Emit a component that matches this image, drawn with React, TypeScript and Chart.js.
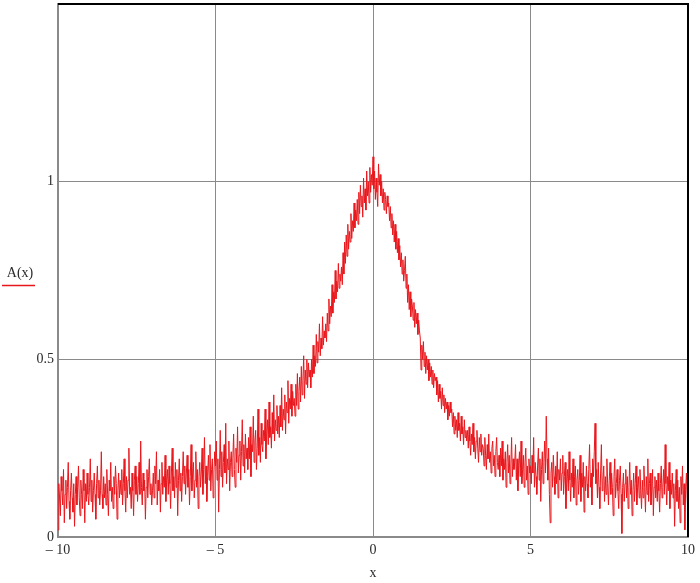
import React, { useEffect, useRef } from "react";
import { Chart, registerables } from "chart.js";

Chart.register(...registerables);

// x range of the sampled function A(x)
const X_MIN = -10;
const X_MAX = 10;

// axis ticks (the 1.5 top has no label)
const Y_TICKS = [0, 0.5, 1, 1.5];
const Y_MAX = 1.5;
const X_TICKS = [-10, -5, 0, 5, 10];

// A(x) samples: 801 samples from -10 to 10 (step 0.025)
const A_VALUES: number[] = [
  // -10 .. -9.525
  0.02, 0.15, 0.11, 0.06, 0.17, 0.13, 0.09, 0.19, 0.04, 0.12, 0.16, 0.08, 0.14, 0.21, 0.10, 0.05, 0.13, 0.18, 0.11, 0.07,
  // -9.5 ..
  0.15, 0.03, 0.12, 0.17, 0.09, 0.14, 0.20, 0.11, 0.06, 0.16, 0.12, 0.08, 0.19, 0.13, 0.04, 0.15, 0.10, 0.18, 0.12, 0.09,
  // -9 ..
  0.14, 0.22, 0.10, 0.16, 0.07, 0.13, 0.18, 0.12, 0.05, 0.15, 0.20, 0.11, 0.16, 0.09, 0.13, 0.24, 0.12, 0.08, 0.17, 0.11,
  // -8.5 ..
  0.15, 0.09, 0.19, 0.12, 0.06, 0.16, 0.13, 0.21, 0.10, 0.14, 0.08, 0.17, 0.12, 0.20, 0.15, 0.05, 0.13, 0.18, 0.11, 0.16,
  // -8 ..
  0.12, 0.19, 0.09, 0.15, 0.22, 0.13, 0.07, 0.17, 0.11, 0.16, 0.25, 0.12, 0.14, 0.08, 0.18, 0.13, 0.06, 0.16, 0.20, 0.12,
  // -7.5 ..
  0.17, 0.10, 0.15, 0.21, 0.12, 0.27, 0.14, 0.09, 0.18, 0.13, 0.16, 0.05, 0.14, 0.19, 0.11, 0.17, 0.22, 0.12, 0.15, 0.09,
  // -7 ..
  0.13, 0.18, 0.11, 0.20, 0.15, 0.24, 0.09, 0.16, 0.13, 0.19, 0.07, 0.15, 0.21, 0.12, 0.17, 0.14, 0.23, 0.10, 0.16, 0.19,
  // -6.5 ..
  0.12, 0.20, 0.15, 0.08, 0.18, 0.25, 0.13, 0.17, 0.11, 0.21, 0.14, 0.19, 0.06, 0.16, 0.22, 0.13, 0.18, 0.10, 0.17, 0.24,
  // -6 ..
  0.15, 0.20, 0.12, 0.18, 0.23, 0.14, 0.19, 0.09, 0.17, 0.26, 0.13, 0.18, 0.21, 0.11, 0.16, 0.24, 0.14, 0.19, 0.08, 0.17,
  // -5.5 ..
  0.21, 0.14, 0.18, 0.25, 0.12, 0.19, 0.28, 0.15, 0.20, 0.10, 0.17, 0.23, 0.16, 0.26, 0.13, 0.19, 0.22, 0.11, 0.18, 0.24,
  // -5 ..
  0.20, 0.27, 0.16, 0.22, 0.07, 0.19, 0.30, 0.17, 0.24, 0.14, 0.21, 0.26, 0.18, 0.32, 0.15, 0.22, 0.19, 0.27, 0.13, 0.21,
  // -4.5 ..
  0.24, 0.17, 0.22, 0.29, 0.19, 0.14, 0.25, 0.21, 0.31, 0.18, 0.23, 0.27, 0.16, 0.24, 0.33, 0.20, 0.26, 0.18, 0.29, 0.22,
  // -4 ..
  0.25, 0.19, 0.28, 0.22, 0.31, 0.17, 0.26, 0.24, 0.34, 0.21, 0.27, 0.30, 0.19, 0.25, 0.36, 0.23, 0.28, 0.21, 0.32, 0.26,
  // -3.5 ..
  0.24, 0.30, 0.27, 0.36, 0.22, 0.29, 0.33, 0.26, 0.38, 0.28, 0.31, 0.25, 0.35, 0.29, 0.40, 0.27, 0.33, 0.30, 0.37, 0.29,
  // -3 ..
  0.34, 0.28, 0.37, 0.31, 0.42, 0.30, 0.36, 0.33, 0.40, 0.29, 0.38, 0.35, 0.44, 0.32, 0.39, 0.36, 0.43, 0.34, 0.41, 0.37,
  // -2.5 ..
  0.39, 0.34, 0.43, 0.37, 0.46, 0.36, 0.41, 0.45, 0.38, 0.48, 0.40, 0.44, 0.51, 0.39, 0.47, 0.43, 0.50, 0.42, 0.49, 0.45,
  // -2 ..
  0.47, 0.42, 0.50, 0.45, 0.54, 0.46, 0.51, 0.48, 0.57, 0.49, 0.55, 0.52, 0.60, 0.51, 0.56, 0.53, 0.62, 0.54, 0.58, 0.56,
  // -1.5 ..
  0.60, 0.55, 0.63, 0.58, 0.67, 0.60, 0.65, 0.62, 0.71, 0.63, 0.69, 0.66, 0.75, 0.67, 0.72, 0.69, 0.77, 0.70, 0.74, 0.72,
  // -1 ..
  0.76, 0.71, 0.80, 0.74, 0.83, 0.77, 0.85, 0.79, 0.88, 0.81, 0.86, 0.83, 0.91, 0.84, 0.89, 0.86, 0.94, 0.87, 0.92, 0.89,
  // -0.5 ..
  0.95, 0.88, 0.97, 0.91, 0.99, 0.93, 0.96, 0.90, 1.01, 0.94, 0.98, 0.92, 1.03, 0.96, 1.00, 0.94, 1.04, 0.97, 1.02, 0.99,
  // 0 ..
  1.07, 0.98, 1.03, 0.95, 1.01, 0.97, 0.93, 1.05, 0.99, 1.02, 0.96, 1.00, 0.94, 0.98, 0.92, 0.97, 0.95, 0.91, 0.96, 0.93,
  // 0.5 ..
  0.94, 0.89, 0.93, 0.87, 0.91, 0.85, 0.89, 0.83, 0.88, 0.81, 0.86, 0.80, 0.84, 0.78, 0.82, 0.76, 0.80, 0.74, 0.78, 0.72,
  // 1 ..
  0.75, 0.79, 0.70, 0.74, 0.66, 0.71, 0.64, 0.69, 0.62, 0.67, 0.65, 0.61, 0.66, 0.59, 0.64, 0.60, 0.63, 0.57, 0.61, 0.58,
  // 1.5 ..
  0.56, 0.47, 0.54, 0.50, 0.55, 0.48, 0.52, 0.46, 0.51, 0.47, 0.50, 0.44, 0.49, 0.45, 0.48, 0.43, 0.47, 0.42, 0.46, 0.44,
  // 2 ..
  0.45, 0.40, 0.44, 0.38, 0.43, 0.39, 0.41, 0.36, 0.42, 0.37, 0.40, 0.35, 0.39, 0.36, 0.38, 0.33, 0.37, 0.34, 0.38, 0.35,
  // 2.5 ..
  0.36, 0.31, 0.35, 0.29, 0.34, 0.30, 0.33, 0.28, 0.35, 0.30, 0.32, 0.27, 0.34, 0.29, 0.31, 0.26, 0.33, 0.28, 0.30, 0.27,
  // 3 ..
  0.30, 0.25, 0.31, 0.27, 0.23, 0.29, 0.26, 0.32, 0.24, 0.28, 0.22, 0.27, 0.30, 0.25, 0.21, 0.28, 0.24, 0.29, 0.23, 0.26,
  // 3.5 ..
  0.25, 0.20, 0.28, 0.23, 0.19, 0.26, 0.22, 0.29, 0.21, 0.24, 0.18, 0.25, 0.27, 0.20, 0.23, 0.17, 0.24, 0.28, 0.21, 0.19,
  // 4 ..
  0.23, 0.17, 0.25, 0.20, 0.27, 0.16, 0.22, 0.19, 0.24, 0.14, 0.21, 0.26, 0.18, 0.23, 0.15, 0.20, 0.28, 0.17, 0.22, 0.19,
  // 4.5 ..
  0.21, 0.26, 0.16, 0.22, 0.13, 0.20, 0.24, 0.17, 0.27, 0.15, 0.19, 0.23, 0.14, 0.21, 0.25, 0.16, 0.20, 0.12, 0.22, 0.18,
  // 5 ..
  0.20, 0.15, 0.23, 0.18, 0.28, 0.14, 0.21, 0.17, 0.12, 0.20, 0.25, 0.16, 0.22, 0.10, 0.19, 0.24, 0.15, 0.21, 0.27, 0.18,
  // 5.5 ..
  0.34, 0.22, 0.16, 0.25, 0.12, 0.04, 0.18, 0.21, 0.14, 0.23, 0.17, 0.12, 0.20, 0.15, 0.24, 0.11, 0.19, 0.16, 0.22, 0.13,
  // 6 ..
  0.18, 0.23, 0.12, 0.17, 0.21, 0.08, 0.15, 0.19, 0.13, 0.24, 0.16, 0.10, 0.18, 0.14, 0.22, 0.11, 0.17, 0.20, 0.09, 0.16,
  // 6.5 ..
  0.19, 0.12, 0.16, 0.23, 0.10, 0.18, 0.14, 0.21, 0.07, 0.17, 0.13, 0.20, 0.15, 0.11, 0.19, 0.26, 0.14, 0.18, 0.09, 0.22,
  // 7 ..
  0.17, 0.24, 0.32, 0.15, 0.19, 0.11, 0.21, 0.14, 0.08, 0.18, 0.26, 0.13, 0.16, 0.20, 0.10, 0.17, 0.12, 0.22, 0.15, 0.09,
  // 7.5 ..
  0.16, 0.21, 0.12, 0.18, 0.14, 0.06, 0.17, 0.22, 0.11, 0.15, 0.19, 0.13, 0.08, 0.16, 0.20, 0.12, 0.01, 0.14, 0.18, 0.10,
  // 8 ..
  0.15, 0.19, 0.11, 0.17, 0.08, 0.14, 0.21, 0.12, 0.16, 0.06, 0.13, 0.18, 0.10, 0.15, 0.20, 0.09, 0.14, 0.17, 0.11, 0.19,
  // 8.5 ..
  0.13, 0.08, 0.16, 0.11, 0.20, 0.14, 0.07, 0.17, 0.12, 0.22, 0.10, 0.15, 0.18, 0.09, 0.13, 0.19, 0.06, 0.14, 0.17, 0.11,
  // 9 ..
  0.16, 0.10, 0.18, 0.13, 0.07, 0.15, 0.20, 0.11, 0.14, 0.19, 0.12, 0.26, 0.15, 0.09, 0.17, 0.13, 0.21, 0.08, 0.16, 0.12,
  // 9.5 ..
  0.18, 0.11, 0.15, 0.03, 0.13, 0.19, 0.10, 0.16, 0.08, 0.14, 0.04, 0.17, 0.12, 0.20, 0.09, 0.15, 0.02, 0.13, 0.18, 0.11,
  // 10
  0.06,
];

const SERIES_LABEL = "A(x)";
const X_TITLE = "x";

const RED = "#e8171c";
const GRID = "#8a8a8a";
const TEXT = "#2b2b2b";
const FONT = "'Liberation Serif', 'DejaVu Serif', serif";

const frameAndLegend = {
  id: "frameAndLegend",
  afterDraw(chart: any) {
    const { ctx, chartArea } = chart;
    ctx.save();
    // black top & right frame
    ctx.strokeStyle = "#000";
    ctx.lineWidth = 2;
    ctx.beginPath();
    ctx.moveTo(chartArea.left, chartArea.top);
    ctx.lineTo(chartArea.right, chartArea.top);
    ctx.lineTo(chartArea.right, chartArea.bottom);
    ctx.stroke();
    // legend label at the left
    ctx.fillStyle = TEXT;
    ctx.font = `14px ${FONT}`;
    ctx.textAlign = "center";
    ctx.textBaseline = "alphabetic";
    ctx.fillText(SERIES_LABEL, 20, 277);
    ctx.strokeStyle = RED;
    ctx.lineWidth = 1.5;
    ctx.beginPath();
    ctx.moveTo(2, 285.5);
    ctx.lineTo(35, 285.5);
    ctx.stroke();
    ctx.restore();
  },
};

export default function App() {
  const canvasRef = useRef<HTMLCanvasElement | null>(null);

  useEffect(() => {
    if (!canvasRef.current) return;
    const n = A_VALUES.length;
    const points = A_VALUES.map((y, i) => ({
      x: X_MIN + (i * (X_MAX - X_MIN)) / (n - 1),
      y,
    }));
    const chart = new Chart(canvasRef.current, {
      type: "line",
      data: {
        datasets: [
          {
            label: SERIES_LABEL,
            data: points,
            borderColor: RED,
            borderWidth: 1,
            pointRadius: 0,
            tension: 0,
            fill: false,
          },
        ],
      },
      options: {
        animation: false,
        responsive: false,
        layout: { padding: { top: 4, right: 12, left: 0, bottom: 0 } },
        plugins: {
          legend: { display: false },
          tooltip: { enabled: false },
        },
        scales: {
          x: {
            type: "linear",
            min: X_MIN,
            max: X_MAX,
            afterBuildTicks: (scale: any) => {
              scale.ticks = X_TICKS.map((v) => ({ value: v }));
            },
            afterFit: (scale: any) => {
              scale.height = 46;
              scale.paddingLeft = 0;
              scale.paddingRight = 0;
            },
            ticks: {
              padding: 5,
              maxRotation: 0,
              autoSkip: false,
              color: TEXT,
              font: { family: FONT, size: 14 },
              callback: (v: any) =>
                Number(v) < 0 ? "\u2013 " + Math.abs(Number(v)) : String(v),
            },
            grid: { color: GRID, lineWidth: 1, drawTicks: false },
            border: { color: GRID, width: 2 },
            title: {
              display: true,
              text: X_TITLE,
              color: TEXT,
              font: { family: FONT, size: 14 },
              padding: { top: 0, bottom: 1 },
            },
          },
          y: {
            type: "linear",
            min: 0,
            max: Y_MAX,
            afterBuildTicks: (scale: any) => {
              scale.ticks = Y_TICKS.map((v) => ({ value: v }));
            },
            afterFit: (scale: any) => {
              scale.width = 58;
              scale.paddingTop = 0;
              scale.paddingBottom = 0;
            },
            ticks: {
              padding: 4,
              color: TEXT,
              font: { family: FONT, size: 14 },
              callback: (v: any) => (Number(v) >= Y_MAX ? "" : String(v)),
            },
            grid: { color: GRID, lineWidth: 1, drawTicks: false },
            border: { color: GRID, width: 2 },
          },
        },
      },
      plugins: [frameAndLegend],
    });
    return () => chart.destroy();
  }, []);

  return (
    <div style={{ position: "absolute", left: 0, top: 0, width: 700, height: 583, background: "#fff" }}>
      <canvas ref={canvasRef} width={700} height={583} style={{ display: "block" }} />
    </div>
  );
}
